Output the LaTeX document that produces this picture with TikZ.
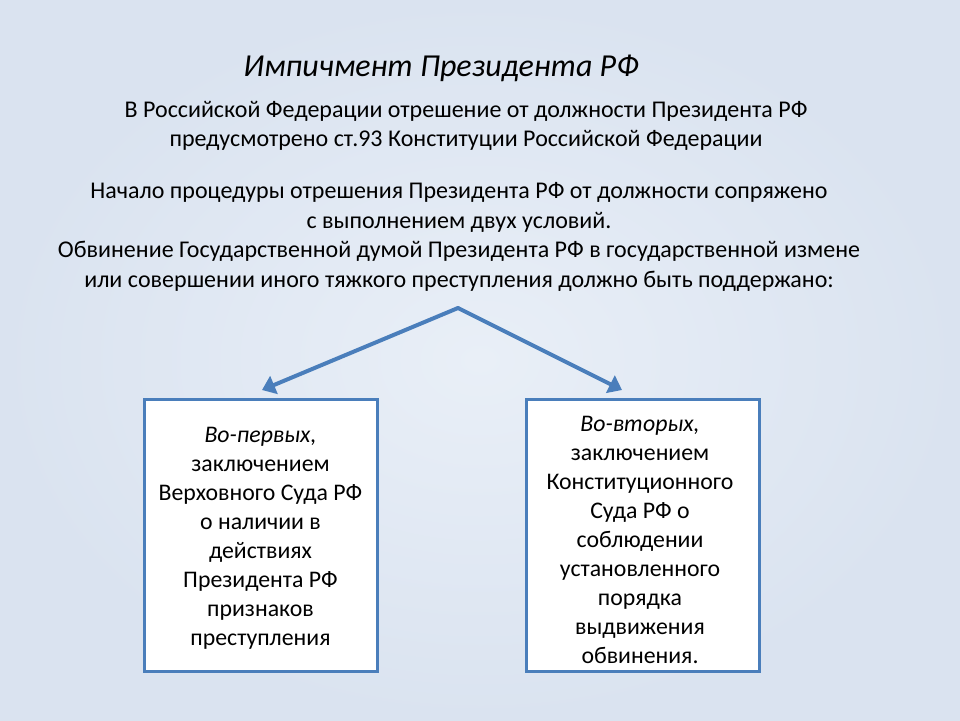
\documentclass[tikz,border=0pt]{standalone}
\usepackage{fontspec}
\setmainfont{Carlito}
\usetikzlibrary{arrows.meta}
\definecolor{bgin}{HTML}{E9EFF7}
\definecolor{bgout}{HTML}{DAE3F0}
\definecolor{accent}{HTML}{4A7EBB}
\tikzset{
  body/.style={align=center, font=\fontsize{24}{29.6}\selectfont, inner sep=0pt},
  box/.style={draw=accent, line width=3pt, fill=white, minimum width=233pt, minimum height=272pt, inner sep=0pt},
  boxtext/.style={align=center, font=\fontsize{23.8}{29}\selectfont, inner sep=0pt},
  conn/.style={draw=accent, line width=4pt, -{Triangle[length=13pt,width=19pt]}}
}
\begin{document}
\begin{tikzpicture}[x=1pt,y=-1pt]
\shade[inner color=bgin, outer color=bgout] (0,0) rectangle (960,720);
\useasboundingbox (0,0) rectangle (960,720);
\node[font=\fontsize{32}{38}\selectfont\itshape, inner sep=0pt] (title) at (441,68) {Импичмент Президента РФ};
\node[body] (p1) at (466,126) {В Российской Федерации отрешение от должности Президента РФ\\предусмотрено ст.93 Конституции Российской Федерации};
\node[body] (p2) at (459,237) {Начало процедуры отрешения Президента РФ от должности сопряжено\\с выполнением двух условий.\\Обвинение Государственной думой Президента РФ в государственной измене\\или совершении иного тяжкого преступления должно быть поддержано:};
\coordinate (top) at (458,308);
\node[box] (b1) at (260.5,535) {};
\node[box] (b2) at (642.5,535) {};
\node[boxtext] (t1) at (260.5,538) {\textit{Во-первых,}\\заключением\\Верховного Суда РФ\\о наличии в\\действиях\\Президента РФ\\признаков\\преступления};
\node[boxtext] (t2) at (640,540) {\textit{Во-вторых,}\\заключением\\Конституционного\\Суда РФ о\\соблюдении\\установленного\\порядка\\выдвижения\\обвинения.};
\draw[conn, line cap=round] (top) -- (262,390);
\draw[conn, line cap=round] (top) -- (622,390);
\end{tikzpicture}
\end{document}
